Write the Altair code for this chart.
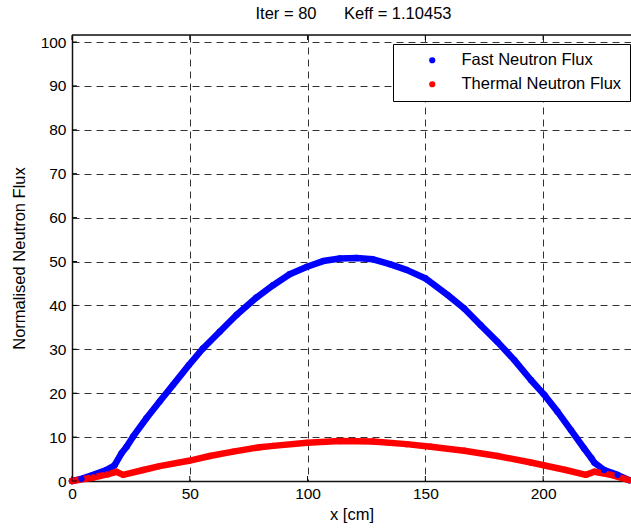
import altair as alt
import pandas as pd

# ---- data ----
fast_x = [0, 4, 9, 14.6, 18.1, 21, 23.2, 25.9, 31.6, 37.2, 42.9, 49.6, 55.6, 62.7, 69.8,
          78.3, 85.4, 92.4, 99.8, 106.6, 113.7, 120.8, 127.8, 134.9, 142.0, 149.9,
          159.4, 166.5, 173.5, 180.6, 187.7, 194.8, 200.2, 206.1, 211.8, 217.4,
          220.5, 221.7, 225.9, 231.6, 236.5]
fast_y = [0.0, 0.5, 1.4, 2.5, 3.6, 6.3, 7.8, 10.1, 14.3, 18.1, 21.9, 26.4, 30.2, 34.0, 37.8,
          41.8, 44.6, 47.1, 48.8, 50.1, 50.7, 50.8, 50.5, 49.4, 48.1, 46.2,
          42.4, 39.3, 35.5, 31.7, 27.6, 23.0, 19.8, 15.8, 11.6, 7.4,
          5.2, 4.2, 2.5, 1.4, 0.2]

thermal_x = [0, 9, 15, 18.8, 21.7, 30.2, 37.2, 49.6, 58.5, 68.4, 79.7, 85.4, 99.8,
             113.7, 127.8, 142.0, 152.3, 166.5, 180.6, 194.8, 200.2, 209.6, 218.1,
             221.7, 228.8, 236.5]
thermal_y = [0.0, 0.8, 1.5, 2.1, 1.4, 2.5, 3.4, 4.6, 5.7, 6.7, 7.7, 8.0, 8.7,
             9.1, 9.0, 8.4, 7.8, 6.9, 5.7, 4.2, 3.6, 2.5, 1.4,
             2.1, 1.4, 0.2]

x_ticks = [0, 50, 100, 150, 200]
y_ticks = [0, 10, 20, 30, 40, 50, 60, 70, 80, 90, 100]
series_names = ["Fast Neutron Flux", "Thermal Neutron Flux"]
series_colors = ["#0000ff", "#ff0000"]
title_text = "Iter = 80" + "\u00a0" * 6 + "Keff = 1.10453"
x_title = "x [cm]"
y_title = "Normalised Neutron Flux"

rows = []
for i, (xv, yv) in enumerate(zip(fast_x, fast_y)):
    rows.append({"x": xv, "y": yv, "series": series_names[0], "idx": i})
for i, (xv, yv) in enumerate(zip(thermal_x, thermal_y)):
    rows.append({"x": xv, "y": yv, "series": series_names[1], "idx": i})
df = pd.DataFrame(rows)

W, H = 559, 446
FONT = "Liberation Sans, Arial, Helvetica, sans-serif"

xscale = alt.Scale(domain=[0, 237.3], nice=False, zero=False)
yscale = alt.Scale(domain=[0, 101.6], nice=False, zero=False)
cscale = alt.Scale(domain=series_names, range=series_colors)

grid_common = dict(
    grid=True, gridDash=[7, 5], gridColor="#333333", gridOpacity=1, gridWidth=1,
    ticks=False, domainColor="#111111", domainWidth=1.5,
    labelFont=FONT, labelFontSize=15.5, labelColor="black",
    titleFont=FONT, titleFontSize=16.5, titleFontWeight="normal", titleColor="black",
    labelFlush=False, labelOverlap=False,
)

x_axis = alt.Axis(values=x_ticks, title=x_title, labelPadding=5, titlePadding=5, **grid_common)
y_axis = alt.Axis(values=y_ticks, title=y_title, labelPadding=6, titlePadding=13, **grid_common)
legend = alt.Legend(
    title=None, orient="none", legendX=321, legendY=9,
    padding=8, rowPadding=7, strokeColor="black", fillColor="white",
    symbolType="circle", symbolSize=22, symbolOffset=23, labelOffset=21,
    labelFont=FONT, labelFontSize=16.5, labelColor="black", labelLimit=0,
)

X = alt.X("x:Q", scale=xscale, axis=x_axis)
Y = alt.Y("y:Q", scale=yscale, axis=y_axis)
C = alt.Color("series:N", scale=cscale, legend=legend)

lines = alt.Chart(df).mark_line(strokeWidth=6.5, strokeCap="round", strokeJoin="round").encode(
    x=X, y=Y, color=C, order=alt.Order("idx:Q"),
)
points = alt.Chart(df).mark_circle(size=40, opacity=1).encode(x=X, y=Y, color=C)

xt = pd.DataFrame({"x": x_ticks})
yt = pd.DataFrame({"y": y_ticks})

bottom_ticks = alt.Chart(xt).mark_rule(color="black", strokeWidth=1).encode(
    x=X, y=alt.value(H), y2=alt.value(H - 5))
top_ticks = alt.Chart(xt).mark_rule(color="black", strokeWidth=1).encode(
    x=X, y=alt.value(0), y2=alt.value(5))
left_ticks = alt.Chart(yt).mark_rule(color="black", strokeWidth=1).encode(
    y=Y, x=alt.value(0), x2=alt.value(5))
top_border = alt.Chart(pd.DataFrame({"a": [0]})).mark_rule(color="#111111", strokeWidth=1.5).encode(
    x=alt.value(0), x2=alt.value(W), y=alt.value(0))

chart = alt.layer(
    lines, points, bottom_ticks, top_ticks, left_ticks, top_border
).properties(
    width=W, height=H,
    title=alt.TitleParams(text=title_text, font=FONT, fontSize=16.5, fontWeight="normal",
                          color="black", offset=12, dx=2),
    padding={"left": 72, "top": 35, "right": 0, "bottom": 48},
    autosize=alt.AutoSizeParams(type="none"),
).configure_view(stroke=None).configure(background="white")

chart.save("out.html", embed_options={"renderer": "svg", "actions": False})
